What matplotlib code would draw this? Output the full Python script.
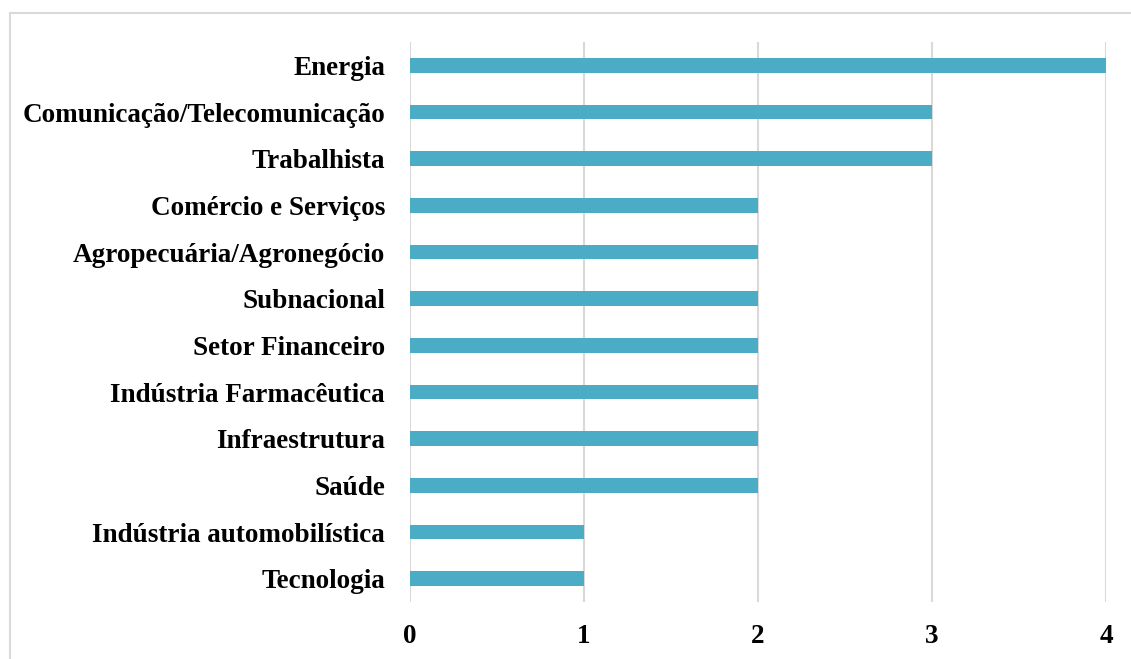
import matplotlib
matplotlib.use("Agg")
import matplotlib.pyplot as plt
from matplotlib.patches import Rectangle

categories = ["Energia", "Comunicação/Telecomunicação", "Trabalhista", "Comércio e Serviços",
              "Agropecuária/Agronegócio", "Subnacional", "Setor Financeiro",
              "Indústria Farmacêutica", "Infraestrutura", "Saúde",
              "Indústria automobilística", "Tecnologia"]
values = [4, 3, 3, 2, 2, 2, 2, 2, 2, 2, 1, 1]
xticks = [0, 1, 2, 3, 4]

plt.rcParams['font.family'] = ['Liberation Serif', 'DejaVu Serif']
W, H = 1131, 659
fig = plt.figure(figsize=(W / 100, H / 100), dpi=100)
ax = fig.add_axes([410 / W, 1 - 602 / H, (1106 - 410) / W, (602 - 42) / H])

n = len(categories)
ypos = list(range(n))[::-1]
ax.barh(ypos, values, height=0.32, color="#4BACC6", zorder=3)
ax.set_ylim(-0.5, n - 0.5)
ax.set_xlim(0, 4)
ax.set_xticks(xticks)
ax.set_xticklabels([str(t) for t in xticks], fontsize=19.5, fontweight='bold')
ax.set_yticks(ypos)
ax.set_yticklabels(categories, fontsize=19.5, fontweight='bold')
ax.tick_params(axis='x', length=0, pad=16)
ax.tick_params(axis='y', length=0, pad=18)
for s in ax.spines.values():
    s.set_visible(False)
ax.grid(axis='x', color="#D9D9D9", linewidth=1.5, zorder=0)

fig.patches.append(Rectangle((9.5 / W, -0.1), 1.2, 1 - 12.5 / H + 0.1, transform=fig.transFigure,
                             fill=False, edgecolor="#D9D9D9", linewidth=1.5))

fig.savefig("out.png", dpi=100)
